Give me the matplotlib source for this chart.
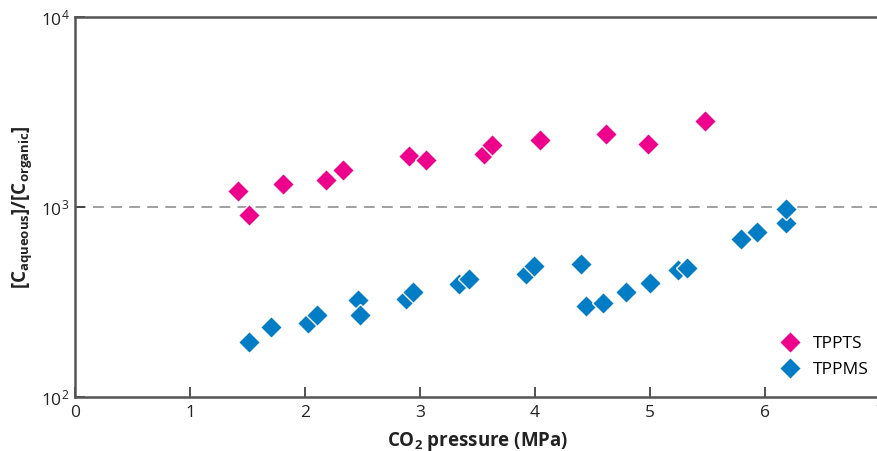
import matplotlib
matplotlib.use("Agg")
import matplotlib.pyplot as plt
import numpy as np

plt.rcParams['font.family'] = ['Open Sans', 'DejaVu Sans']
plt.rcParams['mathtext.fontset'] = 'custom'
plt.rcParams['mathtext.rm'] = 'Open Sans'
plt.rcParams['mathtext.bf'] = 'Open Sans:bold'
plt.rcParams['mathtext.it'] = 'Open Sans:italic'

# TPPTS (pink)
tppts_x = [1.42, 1.51, 1.81, 2.18, 2.33, 2.90, 3.05, 3.56, 3.63, 4.04, 4.62, 4.98, 5.48]
tppts_y = [1220, 910, 1320, 1390, 1570, 1860, 1770, 1900, 2120, 2250, 2420, 2150, 2830]

# TPPMS (blue)
tppms_x = [1.51, 1.70, 2.03, 2.10, 2.46, 2.48, 2.88, 2.94, 3.34, 3.43, 3.92, 3.99,
           4.40, 4.44, 4.59, 4.79, 5.00, 5.24, 5.32, 5.79, 5.93, 6.18, 6.18]
tppms_y = [194, 233, 246, 269, 323, 270, 329, 357, 395, 418, 444, 491,
           503, 303, 313, 357, 398, 466, 476, 676, 739, 821, 976]

pink = '#EC008C'
blue = '#007DC5'
axcol = '#555555'

fig = plt.figure(figsize=(8.78, 4.51), dpi=100)
ax = fig.add_axes([75/878, 1 - 397/451, 805/878, 380/451])

ax.axhline(1000, color='#999999', lw=1.3, dashes=(6, 4), zorder=1)

ax.plot(tppts_x, tppts_y, 'D', color=pink, ms=11, mec='white', mew=1, label='TPPTS', zorder=3)
ax.plot(tppms_x, tppms_y, 'D', color=blue, ms=11, mec='white', mew=1, label='TPPMS', zorder=3)

ax.set_yscale('log')
ax.set_xlim(0, 7)
ax.set_ylim(100, 10000)
ax.set_xticks([0, 1, 2, 3, 4, 5, 6, 7])
ax.minorticks_off()
ax.tick_params(direction='in', length=7, width=1.2, color='#333333', labelsize=12.5,
               labelcolor='#222222')
ax.tick_params(axis='x', pad=6)
ax.tick_params(axis='y', pad=4)

for s in ['left', 'bottom', 'top']:
    ax.spines[s].set_color(axcol)
    ax.spines[s].set_linewidth(1.8)
ax.spines['right'].set_visible(False)

ax.set_xlabel(r'CO$_{\mathbf{2}}$ pressure (MPa)', fontsize=13.5, fontweight='bold', labelpad=6,
              color='#222222')
ax.set_ylabel(r'[C$_{\mathbf{aqueous}}$]/[C$_{\mathbf{organic}}$]', fontsize=13.5, fontweight='bold',
              labelpad=5, color='#222222')

leg = ax.legend(loc='lower right', bbox_to_anchor=(1.008, 0.005), frameon=False, fontsize=12.5,
                handletextpad=0.35, borderaxespad=0.6, labelspacing=0.55)

fig.savefig('out.png', dpi=100)
